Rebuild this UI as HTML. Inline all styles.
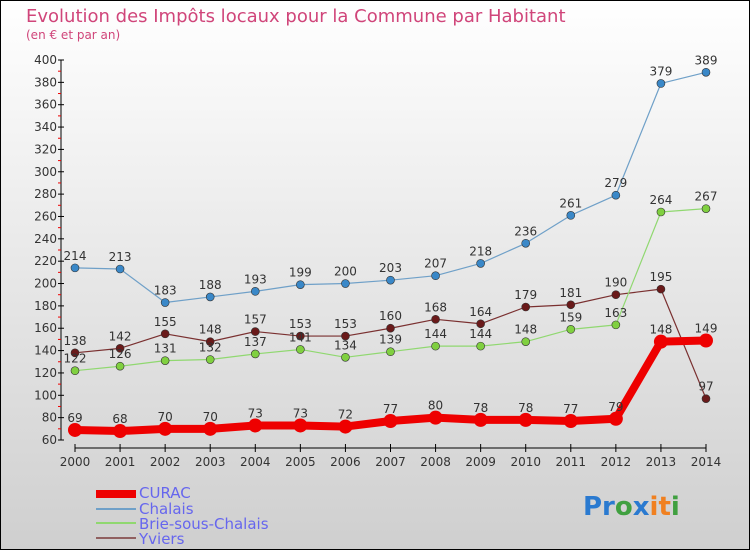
<!DOCTYPE html>
<html><head><meta charset="utf-8"><style>
body{margin:0}
#c{width:750px;height:550px;position:relative;font-family:"DejaVu Sans","Liberation Sans",sans-serif}
</style></head><body>
<div id="c">
<svg id="s" width="750" height="550" xmlns="http://www.w3.org/2000/svg">
<defs><linearGradient id="bg" x1="0" y1="0" x2="0" y2="1"><stop offset="0" stop-color="#ffffff"/><stop offset="1" stop-color="#cfcfcf"/></linearGradient></defs>
<rect x="0.5" y="0.5" width="749" height="549" fill="url(#bg)" stroke="#000"/>
<text x="26" y="22" font-size="18" fill="#d0457a">Evolution des Impôts locaux pour la Commune par Habitant</text>
<text x="26" y="39" font-size="12" fill="#d0457a">(en € et par an)</text>
<g id="axes"></g><g id="series"></g>
<g>
<rect x="96" y="490" width="40" height="8" fill="#ee0000"/>
<text x="139" y="498" font-size="15" fill="#6666ee">CURAC</text>
<rect x="96" y="508" width="40" height="2" fill="#6fa0c8"/>
<text x="139" y="514" font-size="15" fill="#6666ee">Chalais</text>
<rect x="96" y="522" width="40" height="2" fill="#90d870"/>
<text x="139" y="529" font-size="15" fill="#6666ee">Brie-sous-Chalais</text>
<rect x="96" y="537" width="40" height="2" fill="#906060"/>
<text x="139" y="544" font-size="15" fill="#6666ee">Yviers</text>
</g>
<text x="583" y="515" font-size="26" font-weight="bold"><tspan fill="#2a7ad0">Pr</tspan><tspan fill="#40a040">o</tspan><tspan fill="#2a7ad0">x</tspan><tspan fill="#f08020">i</tspan><tspan fill="#f08020">t</tspan><tspan fill="#40a040">i</tspan></text>
</svg></div>
<script>
const years=[2000,2001,2002,2003,2004,2005,2006,2007,2008,2009,2010,2011,2012,2013,2014];
const curac=[69,68,70,70,73,73,72,77,80,78,78,77,79,148,149];
const chalais=[214,213,183,188,193,199,200,203,207,218,236,261,279,379,389];
const brie=[122,126,131,132,137,141,134,139,144,144,148,159,163,264,267];
const yviers=[138,142,155,148,157,153,153,160,168,164,179,181,190,195,97];
const yTicks=[60,80,100,120,140,160,180,200,220,240,260,280,300,320,340,360,380,400];
const NS="http://www.w3.org/2000/svg";
const X=i=>75+i*(706-75)/(years.length-1);
const Y=v=>440-(v-60)*(380/340);
function mk(t,a,p){const e=document.createElementNS(NS,t);for(const k in a)e.setAttribute(k,a[k]);p.appendChild(e);return e;}
const ax=document.getElementById('axes');
mk('line',{x1:61,y1:Y(400),x2:61,y2:Y(60),stroke:'#000'},ax);
yTicks.forEach(v=>{
 const t=mk('text',{x:57,y:Y(v)+4,'font-size':12,'text-anchor':'end',fill:'#333'},ax);t.textContent=v;
 
 mk('line',{x1:58,y1:Y(v),x2:64,y2:Y(v),stroke:'#000'},ax);
 if(v<400)mk('line',{x1:58,y1:Y(v+10),x2:61,y2:Y(v+10),stroke:'#e00'},ax);
});
mk('line',{x1:X(0),y1:448,x2:X(14),y2:448,stroke:'#000'},ax);
years.forEach((y,i)=>{
 mk('line',{x1:X(i),y1:444,x2:X(i),y2:452,stroke:'#000'},ax);
 const t=mk('text',{x:X(i),y:466,'font-size':12,'text-anchor':'middle',fill:'#333'},ax);t.textContent=y;
 
});
const sg=document.getElementById('series');
function series(name,data,col,fill,w,r){
 const g=mk('g',{},sg);
 
 
 mk('polyline',{points:data.map((v,i)=>X(i)+','+Y(v)).join(' '),fill:'none',stroke:col,'stroke-width':w,'stroke-linejoin':'round'},g);
 data.forEach((v,i)=>{
  const c=mk('circle',{cx:X(i),cy:Y(v),r:r,fill:fill,stroke:w>3?'none':'#333','stroke-width':0.6},g);
  
  
  const t=mk('text',{x:X(i),y:Y(v)-8,'font-size':12,'text-anchor':'middle',fill:'#333'},g);t.textContent=v;
  
  
 });
}
series('yviers',yviers,'#7a3030','#6a1a1a',1.2,4);
series('brie',brie,'#90d870','#80d040',1.2,4);
series('chalais',chalais,'#6fa0c8','#3a88c8',1.2,4);
series('curac',curac,'#ee0000','#ee0000',8,7);
</script>
</body></html>
